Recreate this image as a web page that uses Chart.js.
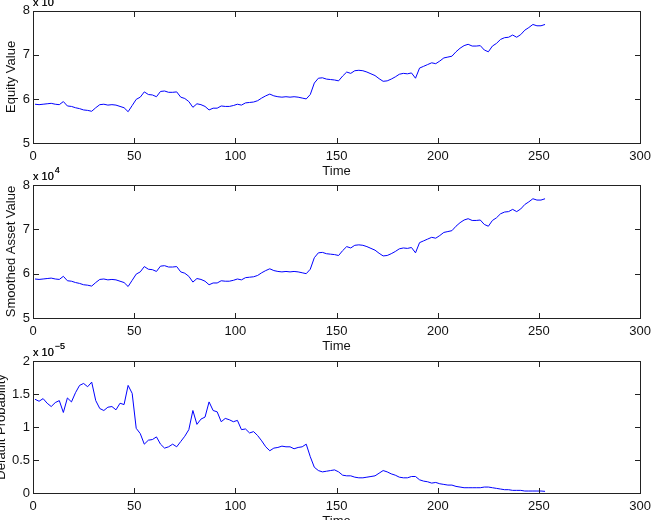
<!DOCTYPE html>
<html>
<head>
<meta charset="utf-8">
<script src="https://cdn.jsdelivr.net/npm/chart.js@4.4.0/dist/chart.umd.min.js"></script>
<style>
  body { margin: 0; background: #fff; }
  #wrap { position: relative; width: 657px; height: 520px; overflow: hidden; background: #fff; }
  #wrap canvas { position: absolute; left: 0; top: 0; }
</style>
</head>
<body>
<div id="wrap">
  <canvas id="equityChart" width="657" height="540"></canvas>
  <canvas id="assetChart" width="657" height="540"></canvas>
  <canvas id="defaultChart" width="657" height="540"></canvas>
</div>
<script>
// time steps (read every 2nd day)
const time = [1,3,5,7,9,11,13,15,17,19,21,23,25,27,29,31,33,35,37,39,
  41,43,45,47,49,51,53,55,57,59,61,63,65,67,69,71,73,75,77,79,
  81,83,85,87,89,91,93,95,97,99,101,103,105,107,109,111,113,115,117,119,
  121,123,125,127,129,131,133,135,137,139,141,143,145,147,149,151,153,155,157,159,
  161,163,165,167,169,171,173,175,177,179,181,183,185,187,189,191,193,195,197,199,
  201,203,205,207,209,211,213,215,217,219,221,223,225,227,229,231,233,235,237,239,
  241,243,245,247,249,251,253];

// equity value, x 10^4
const equityValue = [5.88,5.87,5.88,5.89,5.90,5.88,5.87,5.94,5.84,5.83,
  5.80,5.78,5.75,5.74,5.72,5.80,5.87,5.88,5.86,5.87,
  5.86,5.83,5.80,5.71,5.85,5.99,6.04,6.16,6.10,6.09,
  6.05,6.17,6.18,6.15,6.15,6.16,6.04,6.01,5.94,5.81,
  5.89,5.87,5.83,5.75,5.79,5.79,5.84,5.83,5.83,5.85,
  5.88,5.86,5.91,5.92,5.93,5.96,6.02,6.07,6.11,6.07,
  6.05,6.04,6.05,6.04,6.05,6.04,6.02,6.00,6.10,6.36,
  6.47,6.48,6.45,6.44,6.43,6.41,6.52,6.61,6.58,6.64,
  6.65,6.64,6.61,6.57,6.53,6.46,6.40,6.41,6.45,6.50,
  6.56,6.58,6.57,6.59,6.47,6.70,6.74,6.78,6.82,6.80,
  6.86,6.93,6.95,6.97,7.07,7.15,7.21,7.24,7.20,7.20,
  7.21,7.11,7.07,7.20,7.26,7.35,7.39,7.40,7.45,7.40,
  7.46,7.56,7.62,7.69,7.66,7.66,7.69];

// smoothed asset value, x 10^4
const assetValue = [5.88,5.87,5.88,5.89,5.90,5.88,5.87,5.94,5.84,5.83,
  5.80,5.78,5.75,5.74,5.72,5.80,5.87,5.88,5.86,5.87,
  5.86,5.83,5.80,5.71,5.85,5.99,6.04,6.16,6.10,6.09,
  6.05,6.17,6.18,6.15,6.15,6.16,6.04,6.01,5.94,5.81,
  5.89,5.87,5.83,5.75,5.79,5.79,5.84,5.83,5.83,5.85,
  5.88,5.86,5.91,5.92,5.93,5.96,6.02,6.07,6.11,6.07,
  6.05,6.04,6.05,6.04,6.05,6.04,6.02,6.00,6.10,6.36,
  6.47,6.48,6.45,6.44,6.43,6.41,6.52,6.61,6.58,6.64,
  6.65,6.64,6.61,6.57,6.53,6.46,6.40,6.41,6.45,6.50,
  6.56,6.58,6.57,6.59,6.47,6.70,6.74,6.78,6.82,6.80,
  6.86,6.93,6.95,6.97,7.07,7.15,7.21,7.24,7.20,7.20,
  7.21,7.11,7.07,7.20,7.26,7.35,7.39,7.40,7.45,7.40,
  7.46,7.56,7.62,7.69,7.66,7.66,7.69];

// default probability, x 10^-5
const defaultProb = [1.42,1.39,1.43,1.36,1.31,1.37,1.40,1.22,1.44,1.38,
  1.52,1.63,1.66,1.61,1.68,1.40,1.28,1.25,1.30,1.31,
  1.26,1.36,1.34,1.63,1.51,0.98,0.90,0.74,0.80,0.81,
  0.85,0.74,0.68,0.70,0.74,0.70,0.78,0.86,0.96,1.25,
  1.04,1.12,1.15,1.38,1.25,1.23,1.08,1.13,1.11,1.08,
  1.10,0.96,0.97,0.91,0.93,0.87,0.79,0.70,0.64,0.68,
  0.69,0.71,0.70,0.70,0.67,0.69,0.70,0.74,0.55,0.39,
  0.34,0.32,0.33,0.34,0.35,0.32,0.27,0.26,0.26,0.24,
  0.23,0.23,0.24,0.25,0.26,0.30,0.34,0.32,0.29,0.27,
  0.24,0.23,0.23,0.25,0.25,0.20,0.18,0.17,0.15,0.16,
  0.14,0.13,0.12,0.12,0.10,0.09,0.08,0.08,0.08,0.08,
  0.08,0.09,0.09,0.08,0.07,0.06,0.05,0.05,0.04,0.04,
  0.04,0.03,0.03,0.03,0.03,0.03,0.025];

const FONT = "'Liberation Sans', Arial, sans-serif";
const INK = "#111";

// box, inward tick marks and the "x 10^n" label, like matlab axes
function drawBox(chart, opts) {
  const { ctx, chartArea: a, scales: { x, y } } = chart;
  let l = Math.round(a.left), r = Math.round(a.right);
  let t = Math.round(a.top), b = Math.round(a.bottom);
  ctx.save();
  ctx.globalAlpha = 1;
  ctx.globalCompositeOperation = "source-over";
  ctx.setLineDash([]);
  ctx.fillStyle = "#222";
  ctx.fillRect(l, t, r - l + 1, 1);
  ctx.fillRect(l, b, r - l + 1, 1);
  ctx.fillRect(l, t, 1, b - t + 1);
  ctx.fillRect(r, t, 1, b - t + 1);
  x.ticks.forEach(tk => {
    let px = Math.round(x.getPixelForValue(tk.value));
    ctx.fillRect(px, b - 5, 1, 5);
    ctx.fillRect(px, t + 1, 1, 5);
  });
  y.ticks.forEach(tk => {
    let py = Math.round(y.getPixelForValue(tk.value));
    ctx.fillRect(l + 1, py, 5, 1);
    ctx.fillRect(r - 5, py, 5, 1);
  });
  ctx.fillStyle = INK;
  ctx.font = "11px " + FONT;
  ctx.fillText("x 10", l, t - 5);
  let w = ctx.measureText("x 10").width;
  ctx.font = "9px " + FONT;
  ctx.fillText(opts.exponent, l + w + 1, t - 12);
  ctx.restore();
}

const matlabBox = {
  id: "matlabBox",
  afterDatasetsDraw(chart, args, opts) { drawBox(chart, opts); },
  afterDraw(chart, args, opts) { drawBox(chart, opts); }
};

function makePanel(id, values, cfg) {
  let tickFont = { family: FONT, size: 13 };
  return new Chart(document.getElementById(id), {
    type: "line",
    data: {
      datasets: [{
        data: time.map((t, i) => ({ x: t, y: values[i] })),
        borderColor: "#0000ff",
        borderWidth: 1,
        pointRadius: 0
      }]
    },
    options: {
      responsive: false,
      animation: false,
      layout: { padding: { top: cfg.top, bottom: 540 - cfg.bottom - 37, left: 0, right: 13 } },
      plugins: { legend: { display: false }, tooltip: { enabled: false }, matlabBox: { exponent: cfg.exponent } },
      scales: {
        x: {
          type: "linear", min: 0, max: 300,
          grid: { display: false, drawTicks: false },
          border: { display: false },
          ticks: { stepSize: 50, autoSkip: false, maxRotation: 0, padding: 6, color: INK, font: tickFont },
          title: { display: true, text: "Time", color: INK, font: tickFont, padding: { top: 0, bottom: 1 } },
          afterFit: s => { s.height = 37; }
        },
        y: {
          min: cfg.min, max: cfg.max,
          grid: { display: false, drawTicks: false },
          border: { display: false },
          ticks: { stepSize: cfg.step, padding: 3, color: INK, font: tickFont, callback: v => String(v) },
          title: { display: true, text: cfg.label, color: INK, font: tickFont, padding: { top: cfg.titlePad, bottom: 0 } },
          afterFit: s => { s.width = 33; }
        }
      }
    },
    plugins: [matlabBox]
  });
}

document.addEventListener("DOMContentLoaded", () => {
  makePanel("equityChart", equityValue, { top: 10, bottom: 143, min: 5, max: 8, step: 1, label: "Equity Value", titlePad: 4, exponent: "4" });
  makePanel("assetChart", assetValue, { top: 185, bottom: 318, min: 5, max: 8, step: 1, label: "Smoothed Asset Value", titlePad: 4, exponent: "4" });
  makePanel("defaultChart", defaultProb, { top: 361, bottom: 493, min: 0, max: 2, step: 0.5, label: "Default Probability", titlePad: -6, exponent: "\u22125" });
});
</script>
</body>
</html>
